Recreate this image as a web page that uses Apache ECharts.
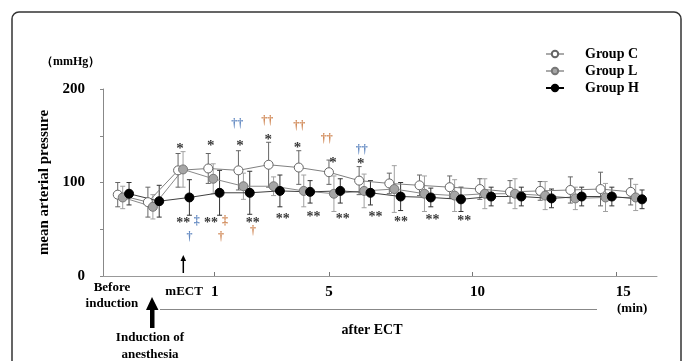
<!DOCTYPE html>
<html>
<head>
<meta charset="utf-8">
<script src="https://cdn.jsdelivr.net/npm/echarts@6/dist/echarts.min.js"></script>
<style>html,body{margin:0;padding:0;background:#fff}#c{width:683px;height:361px}</style>
</head>
<body>
<div id="c"></div>
<script>
// ---- data ----
const timePoints = ['Before induction','After induction','mECT','1','2','3','4','5','6','7','8','9','10','11','12','13','14','15'];
const groupC = [87,79,113,115,113,119,116,111,102,99,97,95,93,90,91,92,93,90];
const sdC    = [13,16,18,16,21,24,18,13,15,11,11,12,11,12,10,14,18,14];
const groupL = [84,74,114,104,96,96,91,88,91,93,88,86,88,88,86,83,84,84];
const sdL    = [12,13,19,16,14,10,17,19,18,25,19,17,16,16,15,12,15,14];
const groupH = [88,80,84,89,89,91,90,91,89,85,84,82,85,85,83,85,85,82];
const sdH    = [12,17,19,24,23,17,12,13,13,15,10,13,10,10,10,10,10,10];

// tick labels (x in minutes on the time axis)
const xLabels   = ['Before\ninduction','mECT','1','5','10','15'];
const xLabelAt  = [-2.55, -0.04, 1.03, 5, 10.17, 15.24];
const xTickAt   = [1,5,10,15];
const yLabels   = [0,100,200];
const yTicks    = [0,50,100,150,200];

// significance marks: [timepoint index, mmHg level, kind]
const starsTop    = [[1.90,139],[2.92,142],[3.89,142],[4.82,149],[5.79,140],[6.97,124],[7.89,123]];
const daggersTop  = [[3.80,163,'b'],[4.79,166,'o'],[5.85,160,'o'],[6.76,147,'o'],[7.92,135,'b']];
const starsBottom = [[2.01,59],[2.93,59],[4.31,59.5],[5.30,63.5],[6.32,65.5],[7.29,64],[8.38,66],[9.22,61],[10.27,63],[11.32,62]];
const dblDaggers  = [[2.45,59,'b'],[3.39,59,'o']];
const daggers     = [[2.21,42,'b'],[3.26,42,'o'],[4.32,48,'o']];

// ---- styling ----
const SERIF = '"Liberation Serif","Times New Roman",serif';
const kindColor = {b:'#3d6db3', o:'#c46a2c'};
const offC = -0.165, offL = 0, offH = 0.21;

function errSeries(name, means, sds, off, color){
  return {
    type:'custom', name: name+' sd', xAxisIndex:1, z:1, silent:true,
    data: means.map((m,i)=>[i+off, m, sds[i]]),
    encode:{x:0,y:1},
    renderItem:(p,api)=>{
      const x=api.value(0), m=api.value(1), s=api.value(2);
      const t=api.coord([x,m+s]), b=api.coord([x,m-s]);
      const w=2.5, st={stroke:color,lineWidth:1};
      return {type:'group',children:[
        {type:'line',shape:{x1:t[0],y1:t[1],x2:b[0],y2:b[1]},style:st},
        {type:'line',shape:{x1:t[0]-w,y1:t[1],x2:t[0]+w,y2:t[1]},style:st},
        {type:'line',shape:{x1:b[0]-w,y1:b[1],x2:b[0]+w,y2:b[1]},style:st}
      ]};
    }
  };
}
function lineSeries(name, means, off, lineColor, fill, border){
  return {
    type:'line', name, xAxisIndex:1, z:3,
    data: means.map((m,i)=>[i+off,m]),
    symbol:'circle', symbolSize:9,
    lineStyle:{color:lineColor,width:1},
    itemStyle:{color:fill,borderColor:border,borderWidth:1},
    emphasis:{disabled:true}, animation:false
  };
}
function markSeries(arr, text, size, dy){
  return {
    type:'scatter', xAxisIndex:1, symbolSize:0, z:5, silent:true, animation:false,
    data: arr.map(a=>({value:[a[0],a[1]], name:text,
      label:{color: a[2] ? kindColor[a[2]] : '#000'}})),
    label:{show:true, position:'inside', formatter:'{b}', fontFamily:SERIF,
      fontWeight:'bold', fontSize:size, offset:[0,dy]}
  };
}

const chart = echarts.init(document.getElementById('c'));
chart.setOption({
  backgroundColor:'#fff',
  animation:false,
  grid:{left:103, right:26, top:89, bottom:85, containLabel:false},
  legend:{
    orient:'vertical', left:540, top:42, itemWidth:18, itemHeight:8, itemGap:3,
    textStyle:{fontFamily:SERIF, fontWeight:'bold', fontSize:14, color:'#000', padding:[0,0,0,16]},
    data:[
      {name:'Group C', lineStyle:{color:'#aaa'}},
      {name:'Group L', lineStyle:{color:'#aaa'}},
      {name:'Group H', lineStyle:{color:'#000'}}
    ]
  },
  xAxis:[
    {type:'value', min:-2.861, max:16.41, position:'bottom',
      axisLine:{show:true, onZero:false, lineStyle:{color:'#999',width:1}},
      axisTick:{show:true, inside:true, length:4, customValues:xTickAt, lineStyle:{color:'#777'}},
      splitLine:{show:false},
      axisLabel:{show:true, margin:4, customValues:xLabelAt,
        formatter:(v)=>{
          let k=0, d=1e9; xLabelAt.forEach((p,i)=>{if(Math.abs(p-v)<d){d=Math.abs(p-v);k=i;}});
          const s=xLabels[k];
          if (s.indexOf('\n')>=0) return s.split('\n').map(l=>'{s|'+l+'}').join('\n');
          if (/^\d+$/.test(s)) return '{n|'+s+'}';
          return '{m|'+s+'}';
        },
        rich:{
          n:{fontFamily:SERIF,fontWeight:'bold',fontSize:15,color:'#000',lineHeight:24},
          m:{fontFamily:SERIF,fontWeight:'bold',fontSize:13,color:'#000',lineHeight:24},
          s:{fontFamily:SERIF,fontWeight:'bold',fontSize:13,color:'#000',lineHeight:16}
        }
      }
    },
    {type:'value', min:-0.653, max:17.706, show:false}
  ],
  yAxis:{
    type:'value', min:0, max:200,
    name:'mean arterial pressure', nameLocation:'middle', nameGap:39, nameRotate:90,
    nameTextStyle:{fontFamily:SERIF, fontWeight:'bold', fontSize:15, color:'#000'},
    axisLine:{show:true, onZero:false, lineStyle:{color:'#888',width:1}},
    axisTick:{show:true, inside:false, length:3, customValues:yTicks, lineStyle:{color:'#888'}},
    splitLine:{show:false},
    axisLabel:{customValues:yLabels, margin:18, fontFamily:SERIF, fontWeight:'bold', fontSize:15, color:'#000'}
  },
  series:[
    errSeries('Group C', groupC, sdC, offC, '#666'),
    errSeries('Group L', groupL, sdL, offL, '#a0a0a0'),
    errSeries('Group H', groupH, sdH, offH, '#333'),
    lineSeries('Group C', groupC, offC, '#808080', '#fff', '#666'),
    lineSeries('Group L', groupL, offL, '#8a8a8a', '#a6a6a6', '#777'),
    lineSeries('Group H', groupH, offH, '#404040', '#000', '#000'),
    markSeries(starsTop, '*', 15, 3),
    markSeries(daggersTop, '††', 12, 0),
    markSeries(starsBottom, '**', 14, 3),
    markSeries(dblDaggers, '‡', 12, 0),
    markSeries(daggers, '†', 12, 0)
  ],
  graphic:[
    {type:'rect', shape:{x:12,y:12,width:669,height:420,r:7}, style:{fill:null, stroke:'#333', lineWidth:1.5}, silent:true},
    {type:'text', left:41, top:56, style:{text:'（mmHg）', font:'bold 12px '+SERIF, fill:'#000'}},
    {type:'polygon', shape:{points:[[152,297],[146,310],[150,310],[150,328],[154.5,328],[154.5,310],[158.5,310]]}, style:{fill:'#000'}},
    {type:'line', shape:{x1:183.3,y1:258,x2:183.3,y2:273}, style:{stroke:'#000',lineWidth:1.5}},
    {type:'polygon', shape:{points:[[183.3,255],[180.5,261],[186.1,261]]}, style:{fill:'#000'}},
    {type:'line', shape:{x1:160,y1:309.5,x2:597,y2:309.5}, style:{stroke:'#888',lineWidth:1}},
    {type:'text', x:150, y:346, style:{text:'Induction of\nanesthesia', font:'bold 13px '+SERIF, fill:'#000', align:'center', verticalAlign:'middle', lineHeight:17}},
    {type:'text', x:372, y:330, style:{text:'after ECT', font:'bold 14px '+SERIF, fill:'#000', align:'center', verticalAlign:'middle'}},
    {type:'text', x:617, y:309, style:{text:'(min)', font:'bold 13px '+SERIF, fill:'#000', align:'left', verticalAlign:'middle'}}
  ]
});
</script>
</body>
</html>
